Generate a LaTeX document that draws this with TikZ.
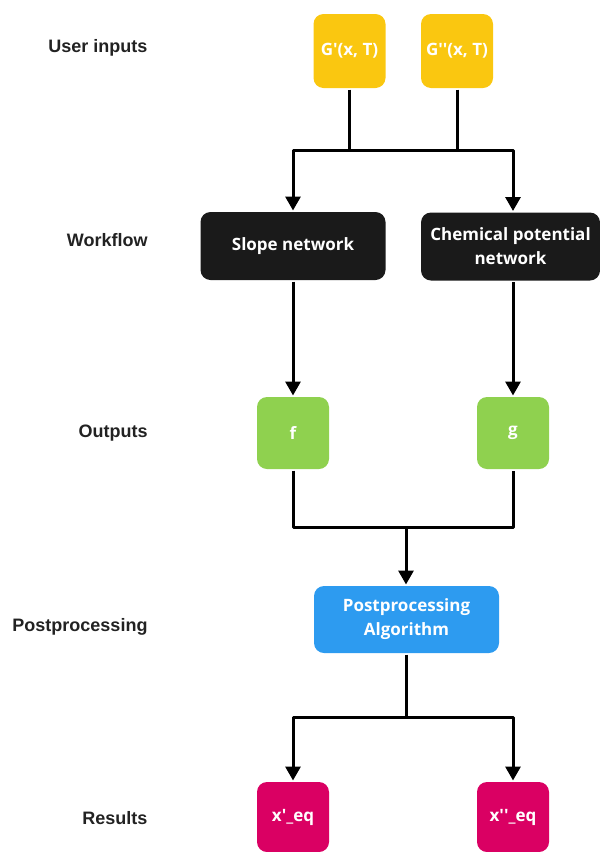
\documentclass[tikz,border=0pt]{standalone}
\usepackage{fontspec}
\setmainfont{Open Sans}[Ligatures=TeXOff]
\newfontfamily\stagefont{Liberation Sans}
\usetikzlibrary{arrows.meta,positioning,calc}
\definecolor{flow-ye}{RGB}{250, 199, 16}
\definecolor{flow-bk}{RGB}{26, 26, 26}
\definecolor{flow-gr}{RGB}{143, 209, 79}
\definecolor{flow-bl}{RGB}{45, 155, 240}
\definecolor{flow-ma}{RGB}{218, 0, 99}
\definecolor{flow-tx}{RGB}{34, 34, 34}
\tikzstyle{box}=[rectangle,rounded corners=10pt,align=center,text=white,inner sep=0pt,font=\fontsize{17}{24}\selectfont\bfseries]
\tikzstyle{sq}=[box,minimum width=72pt,minimum height=74pt]
\tikzstyle{wide}=[box,minimum width=185pt,minimum height=68pt]
\tikzstyle{input}=[sq,fill=flow-ye]
\tikzstyle{net}=[wide,fill=flow-bk]
\tikzstyle{output}=[sq,fill=flow-gr,minimum height=72pt]
\tikzstyle{algo}=[wide,fill=flow-bl,minimum height=67pt]
\tikzstyle{result}=[sq,fill=flow-ma,minimum height=70pt]
\tikzstyle{stage}=[anchor=east,inner sep=0pt,text=flow-tx,font=\stagefont\fontsize{18}{22}\selectfont\bfseries]
\tikzstyle{line}=[draw]
\tikzstyle{arrow}=[draw,-{Triangle[width=15pt,length=14pt]}]

\begin{document}
\begin{tikzpicture}[x=1pt,y=-1pt,line width=3pt,line join=round]
  \useasboundingbox (0,0) rectangle (600,852);

  % row labels
  \node[stage] at (149,48) (luser) {User inputs};
  \node[stage] at (149,240) (lwork) {Workflow};
  \node[stage] at (149,433) (lout) {Outputs};
  \node[stage] at (149,627) (lpost) {Postprocessing};
  \node[stage] at (149,818) (lres) {Results};

  \node[input] at (349.5,51) (gin1) {G'(x, T)};
  \node[input] at (457,51) (gin2) {G''(x, T)};

  \node[net] at (293,246) (slope) {Slope network};
  \node[net,minimum width=179pt] at (510.5,246.5) (chem) {Chemical potential\\network};

  \node[output] at (293,433) (f) {f};
  \node[output] at (513,433) (g) {g};

  \node[algo] at (406.5,619.5) (post) {Postprocessing\\Algorithm};

  \node[result] at (293,817) (xeq1) {x'\_eq};
  \node[result] at (513,817) (xeq2) {x''\_eq};

  \draw[line] (gin1) -- (gin1|-0,150);
  \draw[line] (gin2) -- (gin2|-0,150);
  \draw[arrow] (gin2|-0,150) -| (slope);
  \draw[arrow] (gin1|-0,150) -| (chem.north-|g);

  \draw[arrow] (slope) -- (f);
  \draw[arrow] (chem.south-|g) -- (g);

  \draw[line] (f) |- (g|-0,527) -- (g);
  \draw[arrow] (406,527) -- (406,0|-post.north);

  \draw[line] (406,0|-post.south) -- (406,717);
  \draw[arrow] (406,717) -| (xeq1);
  \draw[arrow] (406,717) -| (xeq2);

\end{tikzpicture}
\end{document}
